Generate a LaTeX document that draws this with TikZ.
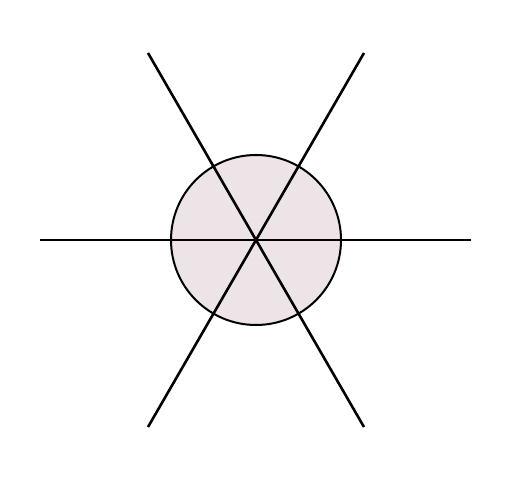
\documentclass[tikz,border=0pt]{standalone}
\usepackage{tikz}
\usetikzlibrary{calc}
\definecolor{discfill}{HTML}{EDE4E8}
\tikzstyle{disc} = [circle, draw=black, line width=2pt, fill=discfill, minimum size=170pt, inner sep=0pt]
\tikzstyle{ray} = [line width=2.6pt, black]

\begin{document}
\begin{tikzpicture}[x=1pt, y=1pt]
\useasboundingbox (0,0) rectangle (523,477);
% NODES
\node (hub) [disc] at (256,237) {};
\coordinate (east) at ($(hub.center)+(0:215)$);
\coordinate (west) at ($(hub.center)+(180:216)$);
\coordinate (north-east) at ($(hub.center)+(60:216)$);
\coordinate (south-west) at ($(hub.center)+(240:216)$);
\coordinate (north-west) at ($(hub.center)+(120:216)$);
\coordinate (south-east) at ($(hub.center)+(300:216)$);

% RAYS
\draw [ray] (west) -- (east);
\draw [ray] (south-west) -- (north-east);
\draw [ray] (north-west) -- (south-east);
\end{tikzpicture}
\end{document}
